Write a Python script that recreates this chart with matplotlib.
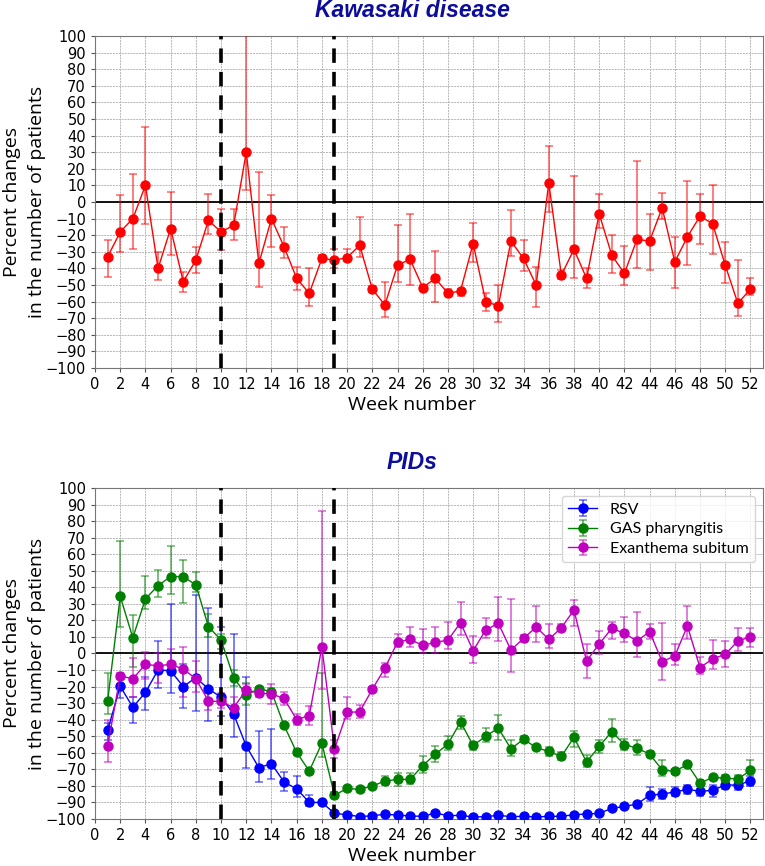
import numpy as np
import matplotlib
matplotlib.use("Agg")
import matplotlib.pyplot as plt

weeks = list(range(1, 53))

kd_mean = [-33, -18, -10, 10, -40, -16, -48, -35, -11, -18, -14, 30, -37, -10, -27, -46, -55, -34, -35, -33.5,
           -26, -52.5, -62, -38, -34.5, -51.5, -46, -55, -53.5, -25, -60, -62.5, -23.5, -34, -50, 11.5, -44, -28.5,
           -46, -7, -32, -43, -22.5, -23.5, -3.5, -36, -21, -8.5, -13, -38, -61, -52.5]
kd_low = [-45, -30, -28, -13, -47, -32, -54, -43, -19, -29, -23, 7, -51, -27, -34, -53, -62.5, -36, -40, -35.5,
          -33, -54, -69, -48, -50, -53, -60, -56, -56.5, -36, -65.5, -72, -32.5, -41.5, -63, -6, -46.5, -46,
          -52, -15.5, -43, -50, -40, -41, -10, -51.5, -38, -25, -31.5, -49, -68.5, -56]
kd_high = [-23, 4, 17, 45, -30, 6, -42, -27, 5, -4, -4, 140, 18, 4, -15, -39, -40, -32, -28, -28,
           -9, -50.5, -48, -14, -7.5, -50, -29.5, -52.5, -52.5, -12.5, -55, -50, -4.5, -23, -39, 33.5, -41, 15.5,
           -40, 5, -20, -26.5, 25, -7, 5.5, -21, 12.5, 5, 10, -24, -35, -46]

rsv_mean = [-46.5, -19.8, -32.5, -23.5, -10, -10.4, -20, -14.6, -21.4, -26.4, -36.6, -56, -69, -66.6, -77.7,
            -81.8, -90, -90, -96.6, -97.4, -98.6, -98, -97.2, -97.6, -98.2, -98.4, -96.4, -98, -97.8, -98.8,
            -98.6, -97.8, -98.6, -98.4, -98.8, -98.4, -98.4, -97.4, -97, -96.6, -93.6, -92.4, -91, -85.7, -84.9,
            -83.7, -82.1, -83.3, -82.7, -79.5, -79.5, -76.9]
rsv_low = [-52, -27, -42, -34, -21, -24, -32.7, -34.7, -40.7, -38, -50.7, -69, -77.7, -76, -83.3, -86.7, -92,
           -91, -97.5, -98.3, -99.3, -98.8, -98, -98.4, -99, -99.2, -97.4, -98.8, -98.6, -99.5, -99.3, -98.6,
           -99.3, -99.2, -99.5, -99.2, -99.2, -98.3, -97.9, -97.6, -94.8, -93.6, -92.2, -89, -87.9, -86.3, -84.7,
           -86.3, -86.7, -81.9, -82.3, -80.3]
rsv_high = [-42, -14, -26, -14.4, 7.5, 29.6, -6.5, 35.6, 27.2, 16.2, 11.6, -14, -46.7, -45.7, -71.9, -73.9,
            -85.3, -89, -95.7, -96.5, -97.9, -97.2, -96.4, -96.8, -97.4, -97.6, -95.4, -97.2, -97, -98.1, -97.9,
            -97, -97.9, -97.6, -98.1, -97.6, -97.6, -96.5, -96.1, -95.6, -92.4, -91.2, -89.8, -80.7, -81.9, -80.9,
            -79.7, -79.7, -79.4, -77.3, -77.3, -74.3]

gas_mean = [-29, 34.5, 9.5, 33, 41, 46.5, 46.5, 41.4, 16.2, 8.1, -14.6, -25, -21.4, -23, -43.5, -59.8, -71,
            -54.2, -85.7, -81.5, -82.1, -80.1, -77.1, -76.1, -76.1, -67.8, -60.8, -54.8, -41.3, -55.6, -50, -45.1,
            -57.6, -51.8, -56.8, -59.2, -62.2, -50.7, -65.6, -56.2, -47.2, -55, -57.2, -60.8, -70.3, -71.3, -67,
            -78.3, -74.9, -75.3, -75.9, -70.7]
gas_low = [-36.5, 16, -8, 26.6, 34, 35.7, 30.5, 36.9, 10, 3, -19.4, -31, -23, -25, -45, -61.5, -72.5, -62.8,
           -87.5, -83, -83.5, -81.5, -79.5, -80, -78.8, -72.3, -65.4, -58.2, -45.5, -58.2, -53.2, -52.2, -62.2,
           -53.5, -58.3, -62.2, -64.6, -56.6, -68.6, -60.2, -53.6, -58.2, -61.2, -62.8, -73.9, -73, -68.5, -80,
           -76.5, -77.3, -77.9, -77.3]
gas_high = [-12, 68, 23, 47, 50.7, 65, 56.7, 49.5, 23.6, 12, -10, -18, -20, -21, -42, -58, -69.5, -12, -84, -80,
            -80.7, -78.7, -74, -72, -72.4, -62.2, -55.8, -49.7, -37.7, -53.2, -45, -37.3, -52.2, -50, -55.3,
            -56.6, -59.4, -46.7, -61.2, -52.2, -39.7, -51.6, -52.2, -58.8, -64.2, -69.6, -65.5, -76.6, -73.3,
            -73.7, -73.3, -64.6]

es_mean = [-56.2, -13.4, -15.4, -6.5, -7.5, -6.5, -9.5, -15.2, -28.8, -29, -32.7, -22, -24, -24.4, -27.2, -40,
           -37.5, 3.9, -57.8, -35.5, -35.3, -21.6, -8.9, 6.9, 8.5, 4.9, 6.7, 8.1, 18.6, 1.7, 14.2, 18.2, 2.1, 9.1,
           16, 8.5, 15.6, 26.2, -4.5, 5.7, 15.2, 12.2, 7.5, 13.2, -4.9, -1.5, 16.6, -8.5, -3.3, -0.5, 7.5, 10.1]
es_low = [-65.6, -15.4, -26, -15.6, -18, -13, -26, -23, -34, -33, -39, -26, -26, -30.6, -31, -43, -43, -21.6,
          -63.2, -39.7, -39, -23, -14.4, 3.7, 4.1, 0.5, 0.5, 2.5, 11.2, -6, 9.1, 7.7, -11.3, 7, 6.9, 3.5, 13.5,
          16.6, -15, -0.3, 8.5, 7.1, -1.9, 8.5, -16, -6.9, 8.5, -12.4, -9.5, -8.3, 1.7, 3.7]
es_high = [-40, -12, -3, 1.1, 0, 3, 4.1, -4.5, -23.6, -24, -26, -18.6, -22.4, -18.6, -23, -36.5, -32, 86, -52,
           -26.4, -31, -20, -6, 12, 16.2, 14.6, 16.2, 19.2, 31.3, 10.5, 21.2, 33.9, 32.7, 11.2, 28.7, 17.8, 17.7,
           32.3, 5.7, 13.8, 19.2, 22.2, 24.8, 17.8, 18.2, 5.7, 28.7, -1.9, 8.1, 7.7, 15.2, 15.2]

event_weeks = [10, 19]
x_ticks = list(range(0, 53, 2))
y_ticks = list(range(-100, 101, 10))

LABEL_FONT = ["Open Sans", "DejaVu Sans"]
LEGEND_FONT = ["Lato", "DejaVu Sans"]
TEXT_X = 0.4746


def yerr(mean, low, high):
    m = np.array(mean)
    return [m - np.array(low), np.array(high) - m]


def draw(ax, series, title, legend=False):
    for label, color, mean, low, high in series:
        cont = ax.errorbar(weeks, mean, yerr=yerr(mean, low, high), color=color, marker="o",
                           markersize=6.5, linewidth=1.0, elinewidth=1.3, capsize=3, capthick=1.2,
                           label=label, zorder=3)
        for b in cont[2]:
            b.set_alpha(0.55)
        for c in cont[1]:
            c.set_alpha(0.55)
    ax.axhline(0, color="black", linewidth=1.3, zorder=2)
    for w in event_weeks:
        ax.axvline(w, color="black", linewidth=2.6, linestyle=(0, (4, 2.5)), zorder=4)
    ax.set_xlim(0, 53)
    ax.set_ylim(-100, 100)
    ax.set_xticks(x_ticks)
    ax.set_yticks(y_ticks)
    ax.tick_params(labelsize=10.5, length=3, color="#555555")
    ax.grid(True, color="#b5b5b5", linestyle=(0, (2, 1)), linewidth=0.7)
    ax.set_axisbelow(True)
    for s in ax.spines.values():
        s.set_color("#777777")
    ax.set_xlabel("Week number", fontsize=14, family=LABEL_FONT, labelpad=3, x=TEXT_X)
    ax.set_ylabel("Percent changes\nin the number of patients", fontsize=14, family=LABEL_FONT,
                  labelpad=0, linespacing=1.45)
    ax.set_title(title, fontsize=16.5, fontweight="bold", fontstyle="italic", color="#0d0d9c",
                 family=["Liberation Sans", "DejaVu Sans"], pad=14, x=TEXT_X)
    if legend:
        ax.legend(loc="upper right", prop={"family": LEGEND_FONT, "size": 11.5}, framealpha=0.8,
                  handlelength=1.8, borderaxespad=0.5, labelspacing=0.35)


fig = plt.figure(figsize=(7.65, 8.66), dpi=100)
ax1 = fig.add_axes([0.1242, 0.575, 0.8732, 0.3834])
ax2 = fig.add_axes([0.1242, 0.0543, 0.8732, 0.3822])

draw(ax1, [("Kawasaki disease", "red", kd_mean, kd_low, kd_high)], "Kawasaki disease")
draw(ax2, [("RSV", "blue", rsv_mean, rsv_low, rsv_high),
           ("GAS pharyngitis", "green", gas_mean, gas_low, gas_high),
           ("Exanthema subitum", "m", es_mean, es_low, es_high)], "PIDs", legend=True)

fig.savefig("out.png", dpi=100)
